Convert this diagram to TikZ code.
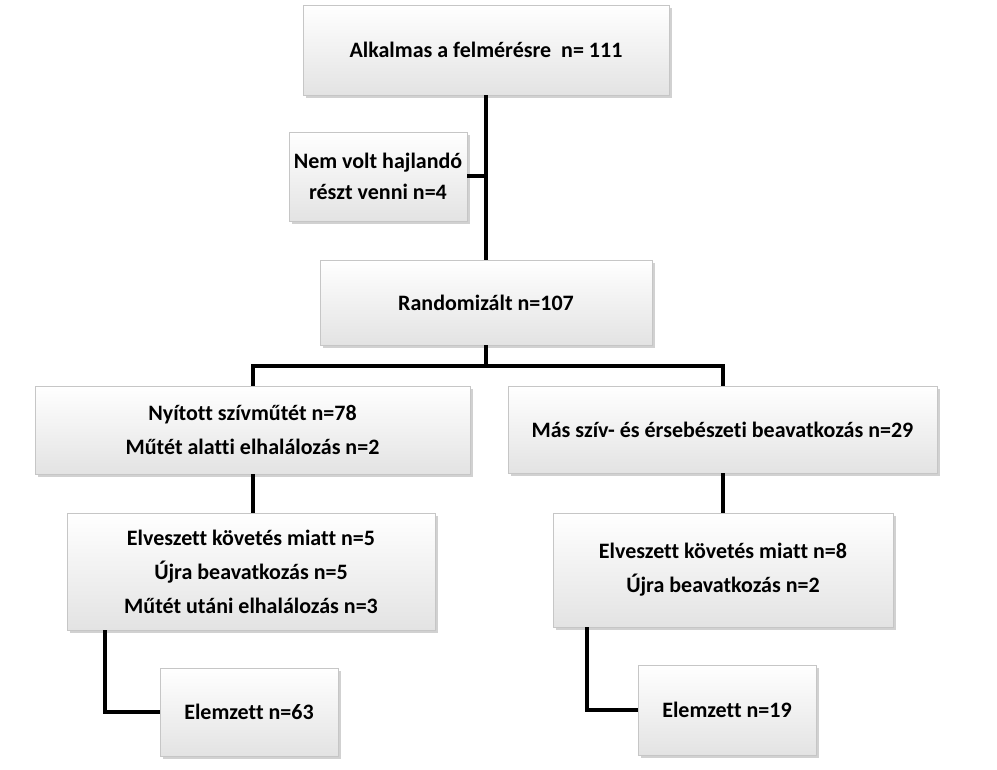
\documentclass[tikz,border=0pt]{standalone}
\usepackage{fontspec}
\setmainfont{Carlito}[Ligatures=NoCommon]
\usetikzlibrary{shadows,calc}
\begin{document}
\begin{tikzpicture}[x=1pt,y=-1pt,
  box/.style={draw=gray!45, line width=0.8pt, top color=white, bottom color=gray!22,
    drop shadow={shadow xshift=2.5pt, shadow yshift=-3pt, opacity=0.45, fill=gray!80},
    align=center, inner sep=2pt, font=\fontsize{22}{34}\selectfont\bfseries},
  conn/.style={line width=4pt, black, line join=miter}]
\useasboundingbox (0,0) rectangle (997,770);
\node[box, minimum width=366, minimum height=90] (top) at (486,50) {Alkalmas a felmérésre\ \ n= 111};
\node[box, minimum width=178, minimum height=89] (nem) at (378,176.5) {Nem volt hajlandó\\[-3pt]részt venni n=4};
\node[box, minimum width=332, minimum height=85] (rand) at (486,302.5) {Randomizált n=107};
\node[box, minimum width=435, minimum height=88] (nyit) at (252.5,430) {Nyított szívműtét n=78\\Műtét alatti elhalálozás n=2};
\node[box, minimum width=429, minimum height=87] (mas) at (722.5,429.5) {Más szív- és érsebészeti beavatkozás n=29};
\node[box, minimum width=368, minimum height=117] (elv1) at (251,571.5) {Elveszett követés miatt n=5\\Újra beavatkozás n=5\\Műtét utáni elhalálozás n=3};
\node[box, minimum width=340, minimum height=114] (elv2) at (723,570) {Elveszett követés miatt n=8\\Újra beavatkozás n=2};
\node[box, minimum width=178, minimum height=88] (elem1) at (249,712) {Elemzett n=63};
\node[box, minimum width=178, minimum height=90] (elem2) at (727,710) {Elemzett n=19};
\coordinate (bar) at (486,366);
\draw[conn] (top.south) -- (rand.north);
\draw[conn] (nem.east) -- (nem.east -| top.south);
\draw[conn] (rand.south) -- (bar);
\draw[conn] (nyit.north) |- (bar) -| (mas.north);
\draw[conn] (nyit.south) -- (nyit.south |- elv1.north);
\draw[conn] (mas.south) -- (mas.south |- elv2.north);
\draw[conn] ($(elv1.south west)+(38,0)$) |- (elem1.west);
\draw[conn] ($(elv2.south west)+(34,0)$) |- (elem2.west);
\end{tikzpicture}
\end{document}
